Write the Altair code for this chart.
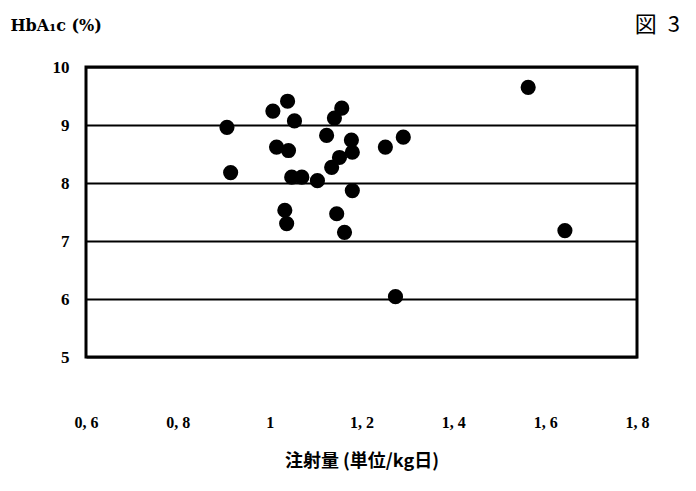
import altair as alt
import pandas as pd

# Injection dose (units/kg/day) and HbA1c (%)
dose = [0.907, 0.915, 1.007, 1.039, 1.054, 1.015, 1.041, 1.048, 1.070, 1.104,
        1.135, 1.152, 1.180, 1.178, 1.124, 1.141, 1.157, 1.180, 1.252, 1.291,
        1.033, 1.037, 1.146, 1.163, 1.274, 1.563, 1.643]
hba1c = [8.96, 8.18, 9.24, 9.41, 9.07, 8.62, 8.56, 8.10, 8.10, 8.04,
         8.27, 8.44, 8.53, 8.74, 8.82, 9.12, 9.29, 7.87, 8.62, 8.79,
         7.53, 7.30, 7.47, 7.15, 6.04, 9.65, 7.18]
x_ticks = [0.6, 0.8, 1.0, 1.2, 1.4, 1.6, 1.8]
y_ticks = [5, 6, 7, 8, 9, 10]

df = pd.DataFrame({"dose": dose, "hba1c": hba1c})

label_font = "Liberation Serif"

chart = alt.Chart(df).mark_circle(size=230, color="black", opacity=1).encode(
    x=alt.X("dose:Q",
            scale=alt.Scale(domain=[0.6, 1.8], nice=False, zero=False),
            axis=alt.Axis(values=x_ticks, grid=False, ticks=False, domain=False,
                          labelExpr="datum.value == 1 ? '1' : replace(format(datum.value, '.1f'), '.', ', ')",
                          labelFont=label_font, labelFontWeight="bold", labelFontSize=16,
                          labelColor="black", labelPadding=57, labelFlush=False,
                          labelBound=False, labelOverlap=False,
                          title="注射量 (単位/kg日)", titleFont="Noto Sans CJK JP",
                          titleFontWeight="bold", titleFontSize=18, titleColor="black",
                          titlePadding=22)),
    y=alt.Y("hba1c:Q",
            scale=alt.Scale(domain=[5, 10], nice=False, zero=False),
            axis=alt.Axis(values=y_ticks, grid=True, gridColor="black", gridWidth=2,
                          gridOpacity=1, ticks=False, domain=False,
                          labelFont=label_font, labelFontWeight="bold", labelFontSize=17,
                          labelColor="black", labelPadding=17, labelFlush=False,
                          title="HbA₁c (%)", titleAngle=0, titleAlign="left",
                          titleBaseline="middle", titleX=-76, titleY=-42,
                          titleFont="DejaVu Serif", titleFontWeight="bold",
                          titleFontSize=16, titleColor="black")),
).properties(
    width=551,
    height=290,
    title=alt.TitleParams(text="図\u20023", anchor="end", dx=31, offset=0, dy=20,
                          font="Noto Sans CJK JP", fontSize=22, fontWeight="normal",
                          color="black"),
    autosize=alt.AutoSizeParams(type="none"),
    padding={"left": 86, "top": 67, "right": 59, "bottom": 134},
).configure(
    background="white"
).configure_view(
    stroke="black", strokeWidth=3
)

chart.save("out.html", embed_options={"renderer": "svg", "actions": False})
